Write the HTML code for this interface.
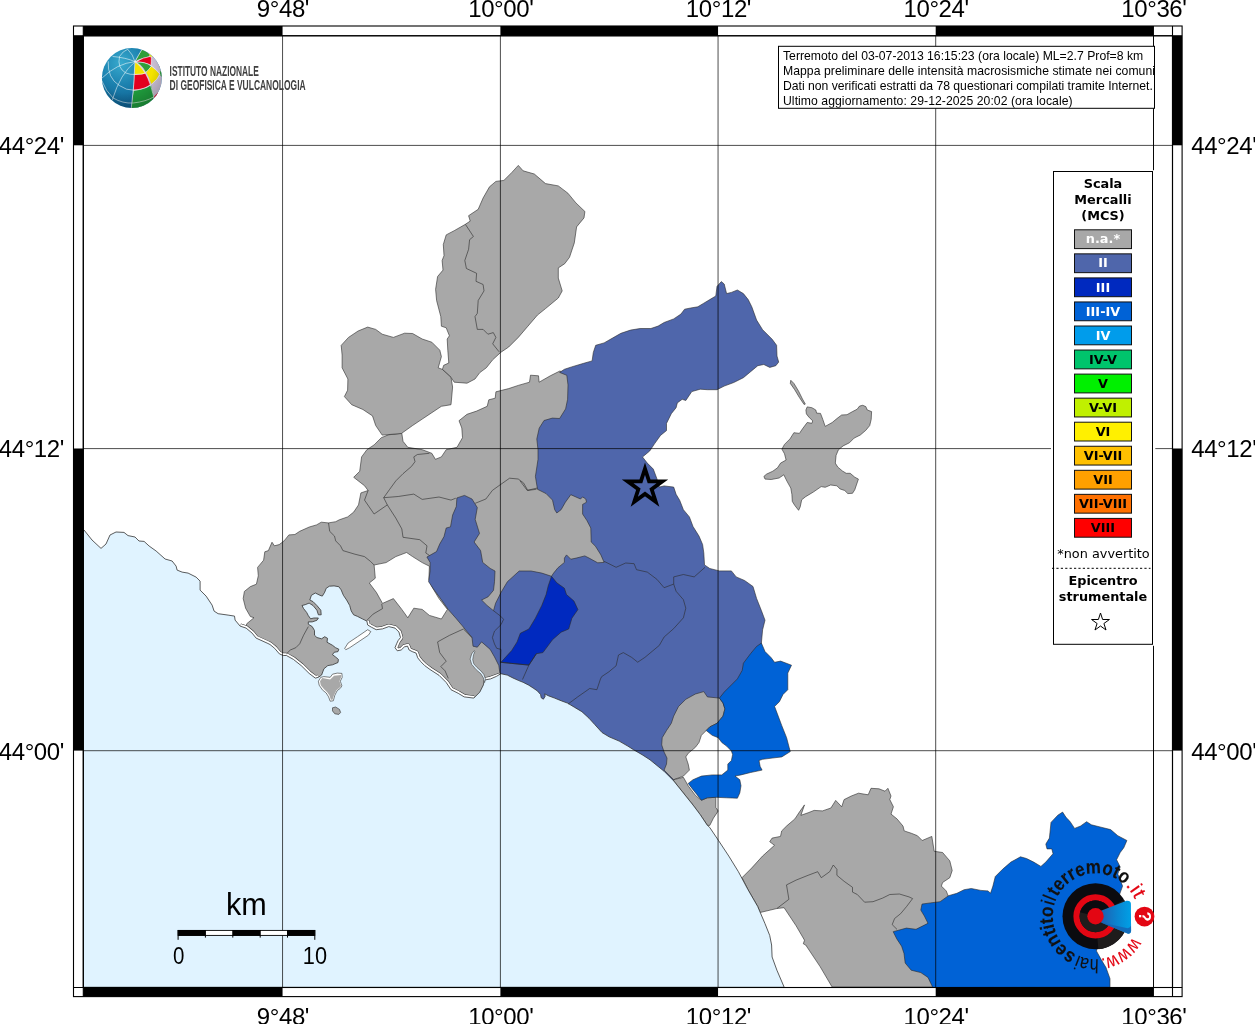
<!DOCTYPE html>
<html lang="it"><head><meta charset="utf-8"><title>Mappa intensità macrosismiche</title>
<style>
html,body{margin:0;padding:0;background:#fff;}
body{width:1255px;height:1024px;overflow:hidden;}
svg{display:block;}
text{white-space:pre;}
</style></head><body>
<svg width="1255" height="1024" viewBox="0 0 1255 1024">
<rect width="1255" height="1024" fill="#fff"/>
<clipPath id="mapclip"><rect x="83.3" y="35.8" width="1089.2" height="951.7"/></clipPath>
<g clip-path="url(#mapclip)">
<polygon points="381.3,437.7 374.1,444.9 366.9,449.7 361.6,456.9 359.7,471.3 353.7,477.3 364.5,485.7 368.1,490.5 360.9,492.9 358.5,504.9 353.7,512.1 347.7,516.9 339.3,519.8 335.7,521.7 328.5,522.9 321.3,522.2 316.5,524.9 309.3,527 299.7,531.3 294.9,534.5 288.9,534.9 284.1,540.9 279.2,544.6 274.4,545.8 272,542.2 268.4,550.6 264.8,551.8 263.6,560.2 257.6,567.4 258.3,575.8 256.4,584.2 250.4,586.6 244.4,591.4 243.2,598.6 245.6,608.2 250.4,616.6 254,617.7 246.8,623.7 245.6,627.3 250,640 300,690 350,725 480,700 520,690 545,660 565,640 620,565 600,470 590,400 575,386 567,374.2 559.9,371 550.3,375.8 539.1,382.2 538.5,375.8 530.5,375.2 529.5,382.2 518.3,385.4 508.7,388.6 495.9,391.8 495.2,398.2 488.8,399.8 487.2,406.3 476.6,411.1 467,414.3 459,420.7 461.8,428 462.5,437.7 457,447.3 446.2,449.7 441.4,456.9 435.4,459.3 431.8,453.3 422.2,449.7 407.8,447.3 403,441.3 401.8,433.3 388.5,434.8" fill="#a8a8a8" stroke="#2a2a2a" stroke-width="0.6" stroke-linejoin="round" />
<polygon points="518.3,165.4 523.1,170.8 534.3,174 545.5,183.6 558.3,185.9 567.9,193.2 575.9,202.9 584.9,211.5 584,217.9 576.6,226.9 574.3,242.9 569.5,257.3 564.7,263.7 558.3,267.9 558.3,278.1 562.2,290.9 558.3,298 545.5,308.6 537.5,315 527.9,326.2 518.3,337.4 508.7,347 500.7,352.4 492.7,359.8 486.3,367.8 479.8,372.6 475,379 467,383.2 454.2,382.2 451,377.4 442.4,369.4 443.7,365.3 448.8,363 447.8,350.2 447.2,339 449.4,335.8 446.2,327.8 441.4,326.2 440.8,316.6 436.6,300.5 435.6,289.3 437.6,276.5 443,270.1 442.1,260.5 444,255.7 443.3,244.5 446.2,234.9 454.2,230.7 465.4,224.3 470.2,221.1 468.6,215.7 478.2,209.3 483.1,198 489.5,186.8 495.9,181.4 503.9,180.4 511.9,172.4" fill="#a8a8a8" stroke="#2a2a2a" stroke-width="0.6" stroke-linejoin="round" />
<polygon points="367.7,327.1 375.7,329.4 382.2,334.2 393.4,337.4 404.6,333.2 412.6,333.5 422.2,339 431.8,342.2 439.8,350.2 441.4,356.6 438.2,367.8 442.4,369.4 451,377.4 452.6,387 451,404.7 441.4,406.3 431.8,412.7 422.2,419.1 412.6,425.5 401.4,433.5 382.2,435.1 375.7,425.5 372.5,415.9 362.9,409.5 351.7,404.7 344.4,396.6 347.6,390.2 347.9,379 342.1,367.8 342.1,355 341.2,345.4 348.5,337.4 358.1,331" fill="#a8a8a8" stroke="#2a2a2a" stroke-width="0.6" stroke-linejoin="round" />
<polygon points="374.1,565 386.1,562.6 395.8,556.6 406.6,552.5 412.6,556.6 422.2,562.6 429.4,566.2 428.9,579.4 431.8,586.6 439,598.6 447.4,609.4 441.4,619 429.4,615.4 422.2,609.4 413.8,608.2 407.8,617.8 401.8,609.4 393.4,598.6 382.5,603.4 376.5,592.6 369.3,583 375.3,578.2" fill="#fff" stroke="#2a2a2a" stroke-width="0.6" stroke-linejoin="round" />
<polygon points="807.2,406.9 811.9,407.7 815.8,410 816.6,413.1 820.5,413.4 822.8,419.4 825.2,426.4 832.2,422.5 836.9,418.6 841.6,415 847,414.7 852.5,411.6 857.2,409.2 859.5,406.1 862.7,405.3 865.8,406.6 867.3,410 871.6,411.6 871.2,419.4 869.7,425.6 865.8,430.3 860.3,435 854.1,438.1 849.4,442.8 843.1,445.9 838.4,449.8 836.1,455.3 835.3,463.1 837.7,467 842.3,470.9 846.2,473.3 850.2,473.3 854.8,477.2 858.4,479.1 856.4,485 854.8,489.7 852.5,493.3 847.8,493.6 844.7,490.5 840,488.9 836.9,485.8 830.6,485 825.2,487.3 821.2,486.6 813.4,492 805.6,496.7 801.7,499.8 800.2,506.9 798.6,510.3 794.7,505.3 792.3,501.4 791.9,494.4 790.8,488.1 786.9,481.1 783.8,474.8 779.1,478 771.2,479.5 765,479.1 763.9,476.4 766.6,474.1 772.8,471.2 777.5,467.8 780.6,463.1 786.1,460 784.5,453.8 781.9,449.1 784.5,444.4 790,438.9 793.9,432.7 799.4,433.4 802.5,428.8 807.2,422.5 811.9,423.3 812.7,420.9 808.8,417 806.4,413.9 805.9,410" fill="#a8a8a8" stroke="#2a2a2a" stroke-width="0.6" stroke-linejoin="round" />
<polygon points="790.8,380.3 793.9,383.4 798.6,391.2 802.5,399.1 805.3,404.1 804.1,404.5 799.4,397.5 794.7,389.7 790.3,383.4" fill="#a8a8a8" stroke="#2a2a2a" stroke-width="0.6" stroke-linejoin="round" />
<polygon points="721.3,281.6 724.2,284 726.6,293.6 731.4,292.4 737.4,290 743.4,293.6 748.2,299.6 751.8,306.8 756.6,320.1 762.6,329.7 772.2,339.3 776.6,345.3 777,356.1 778.7,362.1 775.8,365.7 769.8,367.4 763.8,364.5 757.8,365.7 750.6,371.7 743.4,377.7 733.8,382.5 724.2,386.1 717,389.7 707.4,389.7 700.2,389.2 691.8,391.6 688.2,396.9 685.8,400.5 682.2,399.3 677.3,402.9 676.1,407.7 671.3,413.7 666.5,423.4 666.5,430.6 660.5,435.4 654.5,443.8 649.7,451 642.5,457 647.3,463.1 653.3,469.1 656.9,478.7 659.3,487.1 664.1,485.9 673.7,487.1 676.1,494.3 679.7,500.3 683.4,509.7 689.4,516.9 693,526.5 699,536.1 702.6,544.5 703.8,552.9 704.5,564.9 709.8,568.5 719.4,570.9 731.4,570.9 736.2,576.9 744.6,580.5 753,586.5 756.6,598.5 761.4,610.6 765,620.2 762.6,629.8 761.4,643 740,700 700,720 680,760 670,792 600,742 520,692 505,684 499.9,673 498.8,665.5 494.5,656.9 490.2,649.4 481.6,641.9 477.3,647.2 473,646.2 472,637.6 466.6,631.1 462.3,625.8 455.9,618.2 448.3,609.6 440.8,598.9 434.4,590.3 428.6,581.7 430.1,571 430.1,562.4 426.9,557 436.5,551.6 439.7,544.1 444,536.6 446.2,528 450.5,526.9 452.6,515.1 456.3,506.5 456.9,497.9 464.5,495.4 472,499 477.3,507.6 475.2,519.4 479.5,533.4 474.1,542 480.6,550.6 482.7,562.4 490.2,568.4 495,571 494.5,581.7 493.5,590.3 488.1,596.8 481.6,600 487,605.4 493.5,610.7 495.6,603.2 501,592.5 507.4,581.7 519.2,571 531.1,571 541.8,573.1 551.5,576.3 553.6,573.1 557.9,567.8 564.4,562.4 564.4,558.1 566.5,554.9 570.8,559.2 576.2,558.1 584.8,555.9 589.1,558.1 597.7,562.8 604.1,562.4 600.9,554.9 595.5,546.3 591.2,542 590.8,528 586.9,520.5 582.6,514 582.6,504.4 586.5,502.2 585.8,499 582.6,496.9 580.5,499 570.8,494.7 565.4,502.2 561.1,509.7 556.8,513 554.7,509.7 552.5,500.1 546.1,493.6 537.5,489.3 535.4,476.4 536.4,470 538,459.4 538,449.8 536.8,439 539.2,428.2 544,420.5 552.4,418.1 559.6,418.5 565.6,408.9 567.6,399.3 568,384.9 566.8,375.3 559.6,372.4 564.4,369.3 571.6,366.9 583.7,363.3 592.1,360.9 593.3,352.5 595.7,345.3 604.1,342.9 612.5,338.1 620.9,333.3 630.5,330.1 640.1,328.5 650.9,328.5 658.1,326.1 664.1,322.5 673.7,318.9 680.9,314.1 684.6,309.2 690.6,308 697.8,306.8 703.8,303.2 709.8,299.6 715.8,296 717,286.4" fill="#4f66ab" stroke="#2a2a2a" stroke-width="0.6" stroke-linejoin="round" />
<polygon points="551.5,576.3 556.8,582.8 564.4,588.2 566.5,594.6 574,601.1 577.9,609.6 571.9,618.2 568.7,629 561.1,632.2 552.5,639.7 542.9,652.6 536.4,653.7 528.9,665.1 511.7,663.4 501,662.3 511.7,650.5 517.1,641.9 520.3,633.3 528.9,629 535.4,618.2 541.8,605.4 546.1,594.6 548.2,586" fill="#0029bf" stroke="#2a2a2a" stroke-width="0.6" stroke-linejoin="round" />
<polygon points="703.8,691.6 707.4,696.9 719.4,698.1 723,702.9 724.9,708.9 723,716.1 717,723.3 709.8,726.9 706.2,730.5 701.4,735.3 699,742.5 695.4,747.3 688.2,753.3 685.8,756.9 688.2,764.1 689.4,770.1 683.4,776.1 673.7,779.7 668.9,774.9 664.1,770.1 666.5,764.1 667,758.1 664.1,752.1 661.7,744.9 662.2,737.7 666.5,730.5 671.3,723.3 673.7,716.1 678.5,706.5 685.8,699.3 695.4,694" fill="#a8a8a8" stroke="#2a2a2a" stroke-width="0.6" stroke-linejoin="round" />
<polygon points="673.7,779.7 683.4,777.3 688.2,785.8 695.4,795.4 701.4,800.2 707.4,797.8 715.8,797.3 715.8,807.4 718.2,811 713.4,818.2 709.8,825.4 707.4,825.4 700.2,814.6 693,805 683.4,793 673.7,780.9" fill="#a8a8a8" stroke="#2a2a2a" stroke-width="0.6" stroke-linejoin="round" />
<polygon points="761.4,643.1 765,651.5 771,657.5 774.6,662.3 780.6,661.1 791.5,665.2 787.8,673.1 787.8,689.7 783,694.5 779.4,701.7 774.6,706.5 778.2,716.1 781.8,725.7 786.6,737.7 789.1,747.3 790.3,751.6 781.8,756.9 772.2,758.1 762.6,759.3 759,760.5 760.2,766.5 762.1,770.1 750.6,772.5 741,774.9 735,776.1 739.8,779.7 741,785.8 739.8,793 737.4,798.2 726.6,797.8 715.8,797.3 707.4,797.8 701.4,800.2 696.6,794.2 691.8,788.2 688.2,783.4 693,779.7 701.4,776.1 712.2,774.9 721.8,774.9 727.8,770.1 727.8,764.1 731.4,760.5 732.6,754.5 731.4,750.9 726.6,746.1 721.8,742.5 718.2,737.7 712.2,735.3 706.2,730.5 709.8,726.9 717,723.3 723,716.1 724.9,708.9 723,702.9 719.4,698.1 724.2,692.1 731.4,684.9 737.4,678.9 742.2,670.4 743.4,663.2 750.6,653.6 756.6,646.4" fill="#0062d6" stroke="#2a2a2a" stroke-width="0.6" stroke-linejoin="round" />
<polygon points="742,877.7 751.6,868.1 762.5,856.1 774.5,845.3 769.7,841.7 772.1,838.1 780.5,836.4 781.7,830.9 786.5,826.1 794.9,818.9 799.7,811.6 804.5,804.9 800.9,815.3 808.1,812.8 814.1,810.4 822.5,810.9 830.9,808 835.7,800.4 841.7,806.8 844.1,799.6 851.3,796 858.5,793.2 868.2,794.8 871,788.3 879,788.8 885,791.2 887.9,788.3 891,796 889.8,799.6 893.4,806.8 891,814.1 897,818.9 903,826.1 904.2,830.9 911.4,833.3 917.4,835.7 922.2,840.5 931.8,836.4 934.2,851.3 942.6,852.5 949.8,860.9 952.2,870.5 949.8,877.7 942.6,882.5 941.4,886.1 946.2,890.9 948.6,896.9 964.2,916.1 940.2,987 832.1,987 820.1,966.6 805.7,945 803.3,943.8 804.5,940.2 796.1,925.8 784.1,907.7 776.9,908.5 760.1,912.5 757.7,906.5 748,889.7" fill="#a8a8a8" stroke="#2a2a2a" stroke-width="0.6" stroke-linejoin="round" />
<polygon points="893.2,931.7 906.4,928.1 916,929.3 928,923.3 924.4,916.1 920.8,910.1 922,904.1 930.4,902.9 940.1,901.7 948.5,895.7 956.9,893.3 964.1,889.7 971.3,888.5 980.9,890.4 988.1,890.9 990.5,893.3 992.9,886.1 995.3,876.5 1002.5,869.3 1010.9,862.1 1020.5,856.8 1026.5,858.5 1033.7,862.1 1040.9,866.4 1045.8,862.1 1053,853.7 1051.8,848.9 1047,848.9 1045.8,844.1 1049.4,838.1 1051,822.4 1057.8,815.2 1062.6,812.1 1066.2,817.6 1069.8,821.2 1074.6,828.4 1080.6,826 1086.6,821.7 1091.4,824.8 1101,827.2 1110.6,829.6 1117.8,835.7 1126.9,840.5 1123.8,847.7 1120.2,852.5 1116.6,859.7 1120.2,866.9 1117.8,874.1 1120.2,880.1 1122.6,886.1 1119,896 1112,915 1103,935 1096.4,950.9 1101.2,959.6 1106,967.6 1110,978.7 1110,987.3 932.8,987.5 928,977.4 920.8,972.6 911.2,970.2 905.2,963 904,953.4 901.6,946.2 896.8,938.9" fill="#0062d6" stroke="#2a2a2a" stroke-width="0.6" stroke-linejoin="round" />
<polyline points="240.1,626.1 246.1,628.1 252.1,633.1 256.1,638.1 267.1,643.1 270,644.5 274.7,648.4 279.4,653.9 283.3,655.5 286.4,655.5 293.4,659.4 301.2,665.6 309.1,673.4 315.3,678.1 318.4,677.3" fill="none" stroke="#333" stroke-width="5.4" stroke-linejoin="round"/>
<polyline points="240.1,626.1 246.1,628.1 252.1,633.1 256.1,638.1 267.1,643.1 270,644.5 274.7,648.4 279.4,653.9 283.3,655.5 286.4,655.5 293.4,659.4 301.2,665.6 309.1,673.4 315.3,678.1 318.4,677.3" fill="none" stroke="#fff" stroke-width="4.4" stroke-linejoin="round"/>
<polyline points="366.9,621.1 367.7,625 371.6,627.3 376.2,629.7 382.5,628.9 388.8,626.6 395,628.1 398.9,632 400.5,637.5 398.1,640.6 396.6,643.8 395,647.7 397.3,650.8 401.2,650 404.4,646.9 407.5,646.1 409.1,650 412.2,651.6 416.1,653.1 417.7,657.8 420.8,661.7 424.7,665.6 430,669.5 439,675.3 446.2,682.5 451,689.7 458.2,693.3 464.2,696.9 473.8,698.1" fill="none" stroke="#333" stroke-width="5.4" stroke-linejoin="round"/>
<polyline points="366.9,621.1 367.7,625 371.6,627.3 376.2,629.7 382.5,628.9 388.8,626.6 395,628.1 398.9,632 400.5,637.5 398.1,640.6 396.6,643.8 395,647.7 397.3,650.8 401.2,650 404.4,646.9 407.5,646.1 409.1,650 412.2,651.6 416.1,653.1 417.7,657.8 420.8,661.7 424.7,665.6 430,669.5 439,675.3 446.2,682.5 451,689.7 458.2,693.3 464.2,696.9 473.8,698.1" fill="none" stroke="#fff" stroke-width="4.4" stroke-linejoin="round"/>
<polyline points="484.2,680.1 490.6,678.9 500.3,675.3" fill="none" stroke="#333" stroke-width="5.4" stroke-linejoin="round"/>
<polyline points="484.2,680.1 490.6,678.9 500.3,675.3" fill="none" stroke="#fff" stroke-width="4.4" stroke-linejoin="round"/>
<polygon points="83.5,987.3 83.5,530 84,530 92,540 101,548.4 106,544 110,535 116,532 124,532.4 128,535.6 135,537 139,541 144.1,541.4 149.1,546 156.1,551 165.1,559 172.1,561 176.1,566.1 177.1,570.1 182.1,572.1 188.1,573.1 196.1,577.1 200.1,581.1 200.1,590.1 206.1,596.1 212.1,605.1 214.1,611.1 218.1,613.7 228.1,615.1 234.5,616.1 235.1,620.1 240.1,626.1 246.1,628.1 252.1,633.1 256.1,638.1 267.1,643.1 270,644.5 274.7,648.4 279.4,653.9 283.3,655.5 286.4,655.5 293.4,659.4 301.2,665.6 309.1,673.4 315.3,678.1 318.4,677.3 321.6,675 323.9,668.8 327.8,665.6 332.5,664.8 338,662.5 338.4,659.4 335.6,657 332.5,654.7 334.1,652.3 338,651.6 338.8,649.2 335.6,647.7 332.5,645.3 327,642.2 327.5,638.3 324.7,636.7 321.6,638.8 316.9,637.5 314.5,635.2 314.5,630.5 312.2,626.6 308.3,624.2 308.3,621.9 312.2,621.9 316.9,620.3 318.4,618 313.8,618 310.6,618.8 308.3,615.6 306.7,612.5 303.6,608.6 302,605.5 305.2,604.7 309.1,603.1 313,605.5 316.9,610.2 318.4,614.8 321.2,614.8 320.8,610.2 316.9,605.5 313,601.6 309.8,600 311.4,595.3 315.3,593 320,595.3 322.3,596.1 324.7,592.2 326.2,588.3 329.4,586.2 334.1,585.9 338.8,586.7 341.1,589.8 343.4,595.3 346.6,600 349.7,605.5 351.2,610.9 353.6,614.8 357.5,616.4 362.2,618.8 366.9,621.1 367.7,625 371.6,627.3 376.2,629.7 382.5,628.9 388.8,626.6 395,628.1 398.9,632 400.5,637.5 398.1,640.6 396.6,643.8 395,647.7 397.3,650.8 401.2,650 404.4,646.9 407.5,646.1 409.1,650 412.2,651.6 416.1,653.1 417.7,657.8 420.8,661.7 424.7,665.6 430,669.5 439,675.3 446.2,682.5 451,689.7 458.2,693.3 464.2,696.9 473.8,698.1 479.8,692.1 483.4,684.9 484.2,680.1 490.6,678.9 496.6,676.3 500.8,673.7 507.3,675.1 513,678 518.8,680.6 523.1,682.3 528.8,685.2 533.1,688 537.4,690.9 540.6,694.6 541.2,697.8 543.4,699.2 545.2,696.2 544.6,693.8 548.2,695.7 554.6,698.1 561.8,701 567.5,703.1 574.7,707.4 581.9,711.7 589,718.2 594.8,724.6 602,732.5 609.1,736.8 619.2,741.1 627.8,746.1 633.5,749.7 642.1,754.7 650,759.8 664.1,771.3 673.7,780.9 683.4,793 693,805 700.2,814.6 707.4,825.4 709.6,827.3 718.5,840.5 728.8,856.1 738.4,871.7 748,889.7 757.7,906.5 764.9,923.4 769.7,935.4 771.6,945 772.1,957 776.9,970.2 784.1,987 784,987.3" fill="#e0f3ff" stroke="#333" stroke-width="0.8" stroke-linejoin="round" />
<polygon points="318.4,681.2 320.8,677.3 323.9,676.6 330.2,677.3 332.5,674.2 337.2,673.1 341.9,673.4 342.2,677.3 340.3,681.2 341.9,685.9 340.3,688.3 337.2,690.6 334.8,695.3 333.3,700.8 330.2,701.2 328.6,696.9 326.2,693 322.3,689.8 319.2,685.2" fill="#fff" stroke="#2a2a2a" stroke-width="0.6" stroke-linejoin="round" />
<polygon points="320,681.2 322.3,678.1 330.2,679.4 334.1,675.8 341.1,675 341.1,677.3 339.5,681.2 341.1,685.9 339.5,687.8 336.4,690.3 334.1,695 332.5,699.7 330.9,699.7 329.4,695.3 327,691.9 323.9,689.1 320.8,685.2" fill="#a8a8a8" stroke="none" stroke-width="0.6" stroke-linejoin="round" />
<polygon points="332.5,707.8 335.6,707 339.5,709.4 340.6,712.5 338.8,714.4 334.8,713.8 332.5,710.9" fill="#a8a8a8" stroke="#2a2a2a" stroke-width="0.6" stroke-linejoin="round" />
<polygon points="344.7,648.4 348.1,643 357.5,636.7 367.7,629.7 370.8,631.6 368.4,635.2 359.1,641.4 349.7,647.7 345.8,649.7" fill="#fff" stroke="#2a2a2a" stroke-width="0.6" stroke-linejoin="round" />
<polygon points="474.1,650.7 471.7,653.9 470.1,659.1 471.7,664.4 476.2,669.7 480.9,673.8 483.4,677.9 484.6,682.6 485.5,679.1 483.8,674.4 480.9,670.9 476.8,667.3 473.8,663.8 472.7,659.7 473.6,654.5 475,651.5" fill="#e0f3ff" stroke="#2a2a2a" stroke-width="0.5" stroke-linejoin="round" />
<polyline points="465.4,224.3 473.4,236.5 469.6,239.7 468.6,249.3 464.8,260.5 466.4,268.5 476.6,273.3 476,281.3 483.1,284.5 484,290.9 478.2,300.5 477.3,313.4 475,316.6 477.3,329.4 483.1,329.4 487.9,334.2 493.3,332.6 495.9,337.4 492.7,343.8 499.1,351.8" fill="none" stroke="#2a2a2a" stroke-width="0.6" stroke-linejoin="round"/>
<polyline points="776.9,908.5 788.9,899.3 786.5,884.9 796.1,880.1 808.1,875.3 817.7,871.7 821.3,877.7 829.7,871.7 833.3,865 836.9,869.3 836.9,875.3 844.1,881.3 852.5,887.3 852.5,892.1 857.3,894.5 864.6,902.2 873,901.7 882.6,898.1 889.8,894.5 899.4,894 909,896.9 912.6,898.6 906.6,906.5 900.6,913.7 894.6,918.5 892.2,924.6 897,929.4" fill="none" stroke="#2a2a2a" stroke-width="0.6" stroke-linejoin="round"/>
<polyline points="328.5,522.9 329.7,531.3 334.5,536.1 335.7,540.9 340.5,545.8 342.9,550.6 354.9,554.2 364.5,556.6 370.5,561.4 374.1,565" fill="none" stroke="#2a2a2a" stroke-width="0.6" stroke-linejoin="round"/>
<polyline points="368.1,490.5 364.5,500.1 374.1,514 387.3,504.9 383.7,497.7 389.7,489.3 395.8,480.9 403,473.7 411.4,466.5 415,461.7 413.8,456.9 417.4,454.5 429.4,453.3" fill="none" stroke="#2a2a2a" stroke-width="0.6" stroke-linejoin="round"/>
<polyline points="387.3,504.9 395.8,518.1 401.8,528.9 403,537.3 419.8,539.7 427,545.8 425.8,553 429.4,555.4" fill="none" stroke="#2a2a2a" stroke-width="0.6" stroke-linejoin="round"/>
<polyline points="383.7,497.7 398.2,496.5 413.8,494.1 422.2,499.4 439,497 451,500.1 455.8,498.2" fill="none" stroke="#2a2a2a" stroke-width="0.6" stroke-linejoin="round"/>
<polyline points="475.2,503.3 485.9,499 492.4,490.4 499.9,485 509.6,478.2 518.2,479 523.5,482.9 527.8,490.4 536.4,489.3" fill="none" stroke="#2a2a2a" stroke-width="0.6" stroke-linejoin="round"/>
<polyline points="437.6,641.9 449.4,635.4 463.4,629 472,637.6" fill="none" stroke="#2a2a2a" stroke-width="0.6" stroke-linejoin="round"/>
<polyline points="437.6,641.9 439.7,652.6 446.2,661.2 440.8,666.6 445.1,670.9 448.3,678.4" fill="none" stroke="#2a2a2a" stroke-width="0.6" stroke-linejoin="round"/>
<polyline points="286.4,653.9 290.3,650 295.8,647.7 299.7,643.8 303.6,635.2 308.3,626.6" fill="none" stroke="#2a2a2a" stroke-width="0.6" stroke-linejoin="round"/>
<polyline points="366.9,620.3 373.1,614.1 382.5,608.6 381.7,603.9" fill="none" stroke="#2a2a2a" stroke-width="0.6" stroke-linejoin="round"/>
<polyline points="520,480.8 527.2,490.4 537.3,488" fill="none" stroke="#2a2a2a" stroke-width="0.6" stroke-linejoin="round"/>
<polyline points="604.1,561.3 616.1,567.3 625.7,563 634.1,563.7 636.5,569.7 647.3,572.1 656.9,579.3 664.1,587.7 673.7,584.1 673.7,576.9 683.4,574.5 694.2,576.9 705,567.3" fill="none" stroke="#2a2a2a" stroke-width="0.6" stroke-linejoin="round"/>
<polyline points="673.7,584.1 676.1,591.3 683.4,599.7 685.8,608.2 683.4,617.8 673.7,628.6 664.1,637 659.3,645.4 652.1,651.4 644.9,657.4 637.7,662.2 631.7,657.4 623.3,652.6 618.5,655 616.1,665.8 608.9,671.8 601.7,676.6 600.5,678.9 596.9,689.7 589.7,688.5 577.7,696.9 568,704.1" fill="none" stroke="#2a2a2a" stroke-width="0.6" stroke-linejoin="round"/>
<polyline points="493.5,610.7 500.5,616.1 503.6,619.3 501,624.7 494.5,631.1 492.4,637.6 494.5,644 496.7,648.3 501,649.4 500.5,663.4" fill="none" stroke="#2a2a2a" stroke-width="0.6" stroke-linejoin="round"/>
<polyline points="536.4,653.7 528.9,665.1 522.5,679.5" fill="none" stroke="#2a2a2a" stroke-width="0.6" stroke-linejoin="round"/>
<polyline points="501,662.3 511.7,663.4 528.9,665.1" fill="none" stroke="#2a2a2a" stroke-width="0.6" stroke-linejoin="round"/>
<polygon points="645,468.75 649.1,481.36 662.36,481.36 651.63,489.15 655.73,501.76 645,493.97 634.27,501.76 638.37,489.15 627.64,481.36 640.9,481.36" fill="none" stroke="#000" stroke-width="3.8" stroke-linejoin="miter" stroke-miterlimit="10"/>
<line x1="282.55" y1="35.8" x2="282.55" y2="987.5" stroke="#000" stroke-width="0.7"/>
<line x1="500.4" y1="35.8" x2="500.4" y2="987.5" stroke="#000" stroke-width="0.7"/>
<line x1="718.05" y1="35.8" x2="718.05" y2="987.5" stroke="#000" stroke-width="0.7"/>
<line x1="935.7" y1="35.8" x2="935.7" y2="987.5" stroke="#000" stroke-width="0.7"/>
<line x1="1153.5" y1="35.8" x2="1153.5" y2="987.5" stroke="#000" stroke-width="0.7"/>
<line x1="83.3" y1="145.4" x2="1172.5" y2="145.4" stroke="#000" stroke-width="0.7"/>
<line x1="83.3" y1="448.6" x2="1172.5" y2="448.6" stroke="#000" stroke-width="0.7"/>
<line x1="83.3" y1="750.7" x2="1172.5" y2="750.7" stroke="#000" stroke-width="0.7"/>
</g>
<rect x="83.3" y="26.0" width="199.25" height="9.799999999999997" fill="#000"/><rect x="500.4" y="26.0" width="217.64999999999998" height="9.799999999999997" fill="#000"/><rect x="935.7" y="26.0" width="217.79999999999995" height="9.799999999999997" fill="#000"/>
<rect x="83.3" y="987.5" width="199.25" height="9.100000000000023" fill="#000"/><rect x="500.4" y="987.5" width="217.64999999999998" height="9.100000000000023" fill="#000"/><rect x="935.7" y="987.5" width="217.79999999999995" height="9.100000000000023" fill="#000"/>
<rect x="73.5" y="35.8" width="9.799999999999997" height="109.50000000000001" fill="#000"/><rect x="73.5" y="448.5" width="9.799999999999997" height="302.1" fill="#000"/>
<rect x="1172.5" y="35.8" width="9.599999999999909" height="109.50000000000001" fill="#000"/><rect x="1172.5" y="448.5" width="9.599999999999909" height="302.1" fill="#000"/>
<rect x="73.5" y="26.0" width="1108.6" height="970.6" fill="none" stroke="#000" stroke-width="1.1"/>
<rect x="83.3" y="35.8" width="1089.2" height="951.7" fill="none" stroke="#000" stroke-width="1.1"/>
<line x1="83.3" y1="26.0" x2="83.3" y2="996.6" stroke="#000" stroke-width="1.1"/>
<line x1="1172.5" y1="26.0" x2="1172.5" y2="996.6" stroke="#000" stroke-width="1.1"/>
<line x1="73.5" y1="35.8" x2="1182.1" y2="35.8" stroke="#000" stroke-width="1.1"/>
<line x1="73.5" y1="987.5" x2="1182.1" y2="987.5" stroke="#000" stroke-width="1.1"/>
<line x1="1153.5" y1="26.0" x2="1153.5" y2="996.6" stroke="#000" stroke-width="0.9"/>
<text x="282.95" y="16.9" font-size="24" letter-spacing="-0.4" text-anchor="middle" font-family="'Liberation Sans',sans-serif">9°48'</text>
<text x="282.95" y="1024.7" font-size="24" letter-spacing="-0.4" text-anchor="middle" font-family="'Liberation Sans',sans-serif">9°48'</text>
<text x="500.79999999999995" y="16.9" font-size="24" letter-spacing="-0.4" text-anchor="middle" font-family="'Liberation Sans',sans-serif">10°00'</text>
<text x="500.79999999999995" y="1024.7" font-size="24" letter-spacing="-0.4" text-anchor="middle" font-family="'Liberation Sans',sans-serif">10°00'</text>
<text x="718.4499999999999" y="16.9" font-size="24" letter-spacing="-0.4" text-anchor="middle" font-family="'Liberation Sans',sans-serif">10°12'</text>
<text x="718.4499999999999" y="1024.7" font-size="24" letter-spacing="-0.4" text-anchor="middle" font-family="'Liberation Sans',sans-serif">10°12'</text>
<text x="936.1" y="16.9" font-size="24" letter-spacing="-0.4" text-anchor="middle" font-family="'Liberation Sans',sans-serif">10°24'</text>
<text x="936.1" y="1024.7" font-size="24" letter-spacing="-0.4" text-anchor="middle" font-family="'Liberation Sans',sans-serif">10°24'</text>
<text x="1153.9" y="16.9" font-size="24" letter-spacing="-0.4" text-anchor="middle" font-family="'Liberation Sans',sans-serif">10°36'</text>
<text x="1153.9" y="1024.7" font-size="24" letter-spacing="-0.4" text-anchor="middle" font-family="'Liberation Sans',sans-serif">10°36'</text>
<text x="63.9" y="154.20000000000002" font-size="24" letter-spacing="-0.4" text-anchor="end" font-family="'Liberation Sans',sans-serif">44°24'</text>
<text x="1191.2" y="154.20000000000002" font-size="24" letter-spacing="-0.4" text-anchor="start" font-family="'Liberation Sans',sans-serif">44°24'</text>
<text x="63.9" y="457.4" font-size="24" letter-spacing="-0.4" text-anchor="end" font-family="'Liberation Sans',sans-serif">44°12'</text>
<text x="1191.2" y="457.4" font-size="24" letter-spacing="-0.4" text-anchor="start" font-family="'Liberation Sans',sans-serif">44°12'</text>
<text x="63.9" y="759.5" font-size="24" letter-spacing="-0.4" text-anchor="end" font-family="'Liberation Sans',sans-serif">44°00'</text>
<text x="1191.2" y="759.5" font-size="24" letter-spacing="-0.4" text-anchor="start" font-family="'Liberation Sans',sans-serif">44°00'</text>
<rect x="178.1" y="930.4" width="136.70000000000002" height="5" fill="#fff" stroke="#000" stroke-width="0.9"/>
<rect x="178.1" y="930" width="27.30000000000001" height="5.8" fill="#000"/>
<rect x="232.8" y="930" width="27.399999999999977" height="5.8" fill="#000"/>
<rect x="287.5" y="930" width="27.30000000000001" height="5.8" fill="#000"/>
<line x1="178.1" y1="930" x2="178.1" y2="939.8" stroke="#000" stroke-width="1"/>
<line x1="205.4" y1="930" x2="205.4" y2="937.6" stroke="#000" stroke-width="1"/>
<line x1="232.8" y1="930" x2="232.8" y2="937.6" stroke="#000" stroke-width="1"/>
<line x1="260.2" y1="930" x2="260.2" y2="937.6" stroke="#000" stroke-width="1"/>
<line x1="287.5" y1="930" x2="287.5" y2="937.6" stroke="#000" stroke-width="1"/>
<line x1="314.8" y1="930" x2="314.8" y2="939.8" stroke="#000" stroke-width="1"/>
<text x="246.4" y="915.1" font-size="30.6" text-anchor="middle" font-family="'Liberation Sans',sans-serif">km</text>
<text x="178.6" y="963.9" font-size="23" text-anchor="middle" textLength="11.4" lengthAdjust="spacingAndGlyphs" font-family="'Liberation Sans',sans-serif">0</text>
<text x="314.9" y="963.9" font-size="23" text-anchor="middle" textLength="24.2" lengthAdjust="spacingAndGlyphs" font-family="'Liberation Sans',sans-serif">10</text>
<rect x="778.5" y="46.3" width="376" height="62" fill="#fff" stroke="#000" stroke-width="1"/>
<clipPath id="boxclip"><rect x="779" y="46.5" width="375" height="61.3"/></clipPath>
<g clip-path="url(#boxclip)">
<text x="783" y="59.5" font-size="12.2" textLength="360.2" lengthAdjust="spacing" font-family="'Liberation Sans',sans-serif">Terremoto del 03-07-2013 16:15:23 (ora locale) ML=2.7 Prof=8 km</text>
<text x="783" y="74.5" font-size="12.2" textLength="372.0" lengthAdjust="spacing" font-family="'Liberation Sans',sans-serif">Mappa preliminare delle intensità macrosismiche stimate nei comuni</text>
<text x="783" y="89.5" font-size="12.2" textLength="369.8" lengthAdjust="spacing" font-family="'Liberation Sans',sans-serif">Dati non verificati estratti da 78 questionari compilati tramite Internet.</text>
<text x="783" y="104.5" font-size="12.2" textLength="289.6" lengthAdjust="spacing" font-family="'Liberation Sans',sans-serif">Ultimo aggiornamento: 29-12-2025 20:02 (ora locale)</text>
</g>
<rect x="1051" y="170.2" width="104.3" height="475.6" fill="#fff"/>
<rect x="1053.5" y="171.5" width="99" height="472.8" fill="#fff" stroke="#000" stroke-width="1"/>
<text x="1103" y="188.3" font-size="12.85" font-weight="bold" text-anchor="middle" font-family="'DejaVu Sans',sans-serif">Scala</text>
<text x="1103" y="204.3" font-size="12.85" font-weight="bold" text-anchor="middle" font-family="'DejaVu Sans',sans-serif">Mercalli</text>
<text x="1103" y="220.3" font-size="12.85" font-weight="bold" text-anchor="middle" font-family="'DejaVu Sans',sans-serif">(MCS)</text>
<rect x="1074.5" y="229.80" width="57" height="18.8" fill="#a8a8a8" stroke="#111" stroke-width="1"/>
<text x="1103" y="243.40" font-size="12.85" font-weight="bold" text-anchor="middle" fill="#fff" font-family="'DejaVu Sans',sans-serif">n.a.*</text>
<rect x="1074.5" y="253.85" width="57" height="18.8" fill="#4f66ab" stroke="#111" stroke-width="1"/>
<text x="1103" y="267.45" font-size="12.85" font-weight="bold" text-anchor="middle" fill="#fff" font-family="'DejaVu Sans',sans-serif">II</text>
<rect x="1074.5" y="277.90" width="57" height="18.8" fill="#0029bf" stroke="#111" stroke-width="1"/>
<text x="1103" y="291.50" font-size="12.85" font-weight="bold" text-anchor="middle" fill="#fff" font-family="'DejaVu Sans',sans-serif">III</text>
<rect x="1074.5" y="301.95" width="57" height="18.8" fill="#0062d6" stroke="#111" stroke-width="1"/>
<text x="1103" y="315.55" font-size="12.85" font-weight="bold" text-anchor="middle" fill="#fff" font-family="'DejaVu Sans',sans-serif">III-IV</text>
<rect x="1074.5" y="326.00" width="57" height="18.8" fill="#009ceb" stroke="#111" stroke-width="1"/>
<text x="1103" y="339.60" font-size="12.85" font-weight="bold" text-anchor="middle" fill="#fff" font-family="'DejaVu Sans',sans-serif">IV</text>
<rect x="1074.5" y="350.05" width="57" height="18.8" fill="#00c46c" stroke="#111" stroke-width="1"/>
<text x="1103" y="363.65" font-size="12.85" font-weight="bold" text-anchor="middle" fill="#000" font-family="'DejaVu Sans',sans-serif">IV-V</text>
<rect x="1074.5" y="374.10" width="57" height="18.8" fill="#00f000" stroke="#111" stroke-width="1"/>
<text x="1103" y="387.70" font-size="12.85" font-weight="bold" text-anchor="middle" fill="#000" font-family="'DejaVu Sans',sans-serif">V</text>
<rect x="1074.5" y="398.15" width="57" height="18.8" fill="#c0f000" stroke="#111" stroke-width="1"/>
<text x="1103" y="411.75" font-size="12.85" font-weight="bold" text-anchor="middle" fill="#000" font-family="'DejaVu Sans',sans-serif">V-VI</text>
<rect x="1074.5" y="422.20" width="57" height="18.8" fill="#fff000" stroke="#111" stroke-width="1"/>
<text x="1103" y="435.80" font-size="12.85" font-weight="bold" text-anchor="middle" fill="#000" font-family="'DejaVu Sans',sans-serif">VI</text>
<rect x="1074.5" y="446.25" width="57" height="18.8" fill="#ffc000" stroke="#111" stroke-width="1"/>
<text x="1103" y="459.85" font-size="12.85" font-weight="bold" text-anchor="middle" fill="#000" font-family="'DejaVu Sans',sans-serif">VI-VII</text>
<rect x="1074.5" y="470.30" width="57" height="18.8" fill="#ffa000" stroke="#111" stroke-width="1"/>
<text x="1103" y="483.90" font-size="12.85" font-weight="bold" text-anchor="middle" fill="#000" font-family="'DejaVu Sans',sans-serif">VII</text>
<rect x="1074.5" y="494.35" width="57" height="18.8" fill="#ff7000" stroke="#111" stroke-width="1"/>
<text x="1103" y="507.95" font-size="12.85" font-weight="bold" text-anchor="middle" fill="#000" font-family="'DejaVu Sans',sans-serif">VII-VIII</text>
<rect x="1074.5" y="518.40" width="57" height="18.8" fill="#ff0000" stroke="#111" stroke-width="1"/>
<text x="1103" y="532.00" font-size="12.85" font-weight="bold" text-anchor="middle" fill="#000" font-family="'DejaVu Sans',sans-serif">VIII</text>
<text x="1103.5" y="558" font-size="12.85" text-anchor="middle" font-family="'DejaVu Sans',sans-serif">*non avvertito</text>
<line x1="1052" y1="568.3" x2="1150.5" y2="568.3" stroke="#000" stroke-width="1" stroke-dasharray="2.2,2.2"/>
<text x="1103" y="584.5" font-size="12.85" font-weight="bold" text-anchor="middle" font-family="'DejaVu Sans',sans-serif">Epicentro</text>
<text x="1103" y="600.5" font-size="12.85" font-weight="bold" text-anchor="middle" font-family="'DejaVu Sans',sans-serif">strumentale</text>
<polygon points="1100.5,613 1102.62,619.49 1109.44,619.5 1103.92,623.51 1106.03,630 1100.5,626 1094.97,630 1097.08,623.51 1091.56,619.5 1098.38,619.49" fill="#fff" stroke="#000" stroke-width="1"/>
<defs>
<radialGradient id="gblue" cx="0.32" cy="0.25" r="0.85">
<stop offset="0" stop-color="#38aace"/><stop offset="0.45" stop-color="#1b80ae"/><stop offset="1" stop-color="#0a5484"/>
</radialGradient>
<radialGradient id="gshade" cx="0.4" cy="0.3" r="0.75">
<stop offset="0.6" stop-color="#000" stop-opacity="0"/><stop offset="1" stop-color="#000" stop-opacity="0.22"/>
</radialGradient>
<clipPath id="gclip"><circle cx="503" cy="518" r="409"/></clipPath>
</defs>
<g transform="translate(95,40) scale(0.07326)">
<circle cx="503" cy="518" r="409" fill="url(#gblue)"/>
<g clip-path="url(#gclip)">
<path d="M545,295 L640,130 L700,150 L760,200 L800,230 L860,300 L900,400 L925,520 L900,650 L850,760 L760,860 L640,920 L495,940 L520,700 L535,500 Z" fill="#c9bfd4"/>
<path d="M555,285 L640,132 L700,158 L748,200 L735,226 L660,242 L600,262 Z" fill="#2f9e3a"/>
<path d="M738,185 L782,222 L772,238 L746,212 Z" fill="#f2e500"/>
<path d="M570,296 L660,247 L745,227 L770,242 L765,342 L720,322 L650,302 Z" fill="#e3001f"/>
<path d="M575,306 L650,306 L720,327 L765,357 L735,402 L695,437 L660,382 L620,337 Z" fill="#2f9e3a"/>
<path d="M548,305 L600,342 L650,402 L685,452 L640,466 L543,470 Z" fill="#f4e300"/>
<path d="M700,442 L770,362 L830,412 L875,462 L845,532 L770,602 L735,512 Z" fill="#f4e300"/>
<path d="M540,477 L640,472 L690,457 L725,532 L755,607 L680,652 L600,674 L528,678 Z" fill="#e3001f"/>
<path d="M528,692 L610,684 L700,654 L765,618 L785,702 L805,782 L760,870 L640,930 L495,940 Z" fill="#1f9a3c"/>
<path d="M888,418 L915,450 L915,505 L888,478 Z" fill="#2f9e3a"/>
<path d="M805,775 L860,715 L875,735 L815,795 Z" fill="#e3001f"/>
<g fill="none" stroke="#fff" stroke-width="7.5" stroke-opacity="0.97">
<path d="M545,295 Q538,600 495,935"/>
<path d="M545,295 Q590,210 642,128"/>
<path d="M545,295 Q520,200 445,125"/>
<path d="M545,295 Q420,240 240,225"/>
<path d="M545,295 Q300,320 95,520"/>
<path d="M545,300 Q350,450 235,820"/>
<path d="M180,290 Q170,520 330,620 Q430,690 530,685 Q680,670 765,610"/>
<path d="M335,225 Q300,380 420,450 Q480,475 545,470 Q630,470 690,452"/>
<path d="M335,225 Q380,150 445,128"/>
<path d="M95,560 Q150,700 245,790 Q380,870 520,860 Q700,840 805,775"/>
<path d="M545,295 Q660,380 725,530 Q770,640 805,790"/>
<path d="M545,295 Q700,300 770,355 Q840,400 890,470"/>
<path d="M570,290 Q660,240 750,225"/>
<path d="M770,225 Q770,300 765,350"/>
<path d="M690,445 Q740,400 770,358"/>
<path d="M770,605 Q850,540 888,475"/>
</g>
<circle cx="503" cy="518" r="409" fill="url(#gshade)"/>
</g>
</g>
<g font-family="'Liberation Sans',sans-serif" font-size="15.3" fill="#404040" font-weight="bold">
<text x="169.6" y="76.3" textLength="89.2" lengthAdjust="spacingAndGlyphs">ISTITUTO NAZIONALE</text>
<text x="169.6" y="90.4" textLength="136" lengthAdjust="spacingAndGlyphs">DI GEOFISICA E VULCANOLOGIA</text>
</g>

<defs>
<path id="hsitp" d="M1135.72,930.94 A42.8,42.8 0 1 1 1055.28,901.66 A42.8,42.8 0 1 1 1135.72,930.94 A42.8,42.8 0 1 1 1055.28,901.66"/>
<linearGradient id="cone" x1="0" y1="0" x2="1" y2="0"><stop offset="0" stop-color="#1f5fb0"/><stop offset="0.55" stop-color="#0a86d1"/><stop offset="1" stop-color="#00a0e6"/></linearGradient>
</defs>
<circle cx="1095.5" cy="916.3" r="33" fill="#0b0b0f"/>
<path d="M1095.5,916.3 L1124.08,899.80 A33,33 0 0 1 1098.38,949.17 Z" fill="#1f1c1c"/>
<circle cx="1095.5" cy="916.3" r="19" fill="none" stroke="#e30613" stroke-width="6.2"/>
<circle cx="1095.5" cy="916.3" r="15.9" fill="#1f1c1c"/>
<path d="M1095.5,916.3 L1080.14,912.18 A15.9,15.9 0 0 1 1110.44,910.86 Z" fill="#0b0b0f"/>
<path d="M1101.00,910.70 L1126.50,900.70 Q1130.70,900.30 1130.90,903.80 L1131.10,930.90 Q1130.80,934.30 1127.50,933.50 L1101.00,922.60 Z" fill="url(#cone)"/>
<path d="M1101.00,922.60 L1127.50,933.50 Q1130.80,934.30 1131.10,930.90 L1131.00,925.80 Q1129.50,928.80 1126.50,928.10 Z" fill="#1565b5" fill-opacity="0.85"/>
<circle cx="1095.5" cy="916.3" r="8.2" fill="#e30613"/>
<circle cx="1144.5" cy="916.5999999999999" r="9.9" fill="#e30613"/>
<text transform="translate(1145.10,916.60) rotate(90)" x="0" y="5.9" text-anchor="middle" font-family="'Liberation Sans',sans-serif" font-weight="bold" font-size="16.5" fill="#fff">?</text>
<text font-family="'Liberation Sans',sans-serif" font-size="19.5" font-weight="normal" fill="#e30613" stroke="#e30613" stroke-width="0.1"><textPath href="#hsitp" startOffset="6.72" textLength="40.34" lengthAdjust="spacingAndGlyphs">www.</textPath></text>
<text font-family="'Liberation Sans',sans-serif" font-size="19.5" font-weight="normal" fill="#111" stroke="#111" stroke-width="0.1"><textPath href="#hsitp" startOffset="48.93" textLength="21.29" lengthAdjust="spacingAndGlyphs">hai</textPath></text>
<text font-family="'Liberation Sans',sans-serif" font-size="19.5" font-weight="bold" fill="#111" stroke="#111" stroke-width="0.12"><textPath href="#hsitp" startOffset="72.09" textLength="56.62" lengthAdjust="spacingAndGlyphs">sentito</textPath></text>
<text font-family="'Liberation Sans',sans-serif" font-size="19.5" font-weight="normal" fill="#111" stroke="#111" stroke-width="0.1"><textPath href="#hsitp" startOffset="129.23" textLength="8.67" lengthAdjust="spacingAndGlyphs">il</textPath></text>
<text font-family="'Liberation Sans',sans-serif" font-size="19.5" font-weight="bold" fill="#111" stroke="#111" stroke-width="0.12"><textPath href="#hsitp" startOffset="139.32" textLength="79.18" lengthAdjust="spacingAndGlyphs">terremoto</textPath></text>
<text font-family="'Liberation Sans',sans-serif" font-size="19.5" font-weight="normal" fill="#e30613" stroke="#e30613" stroke-width="0.1"><textPath href="#hsitp" startOffset="219.24" textLength="17.18" lengthAdjust="spacingAndGlyphs">.it</textPath></text>
</svg>
</body></html>
